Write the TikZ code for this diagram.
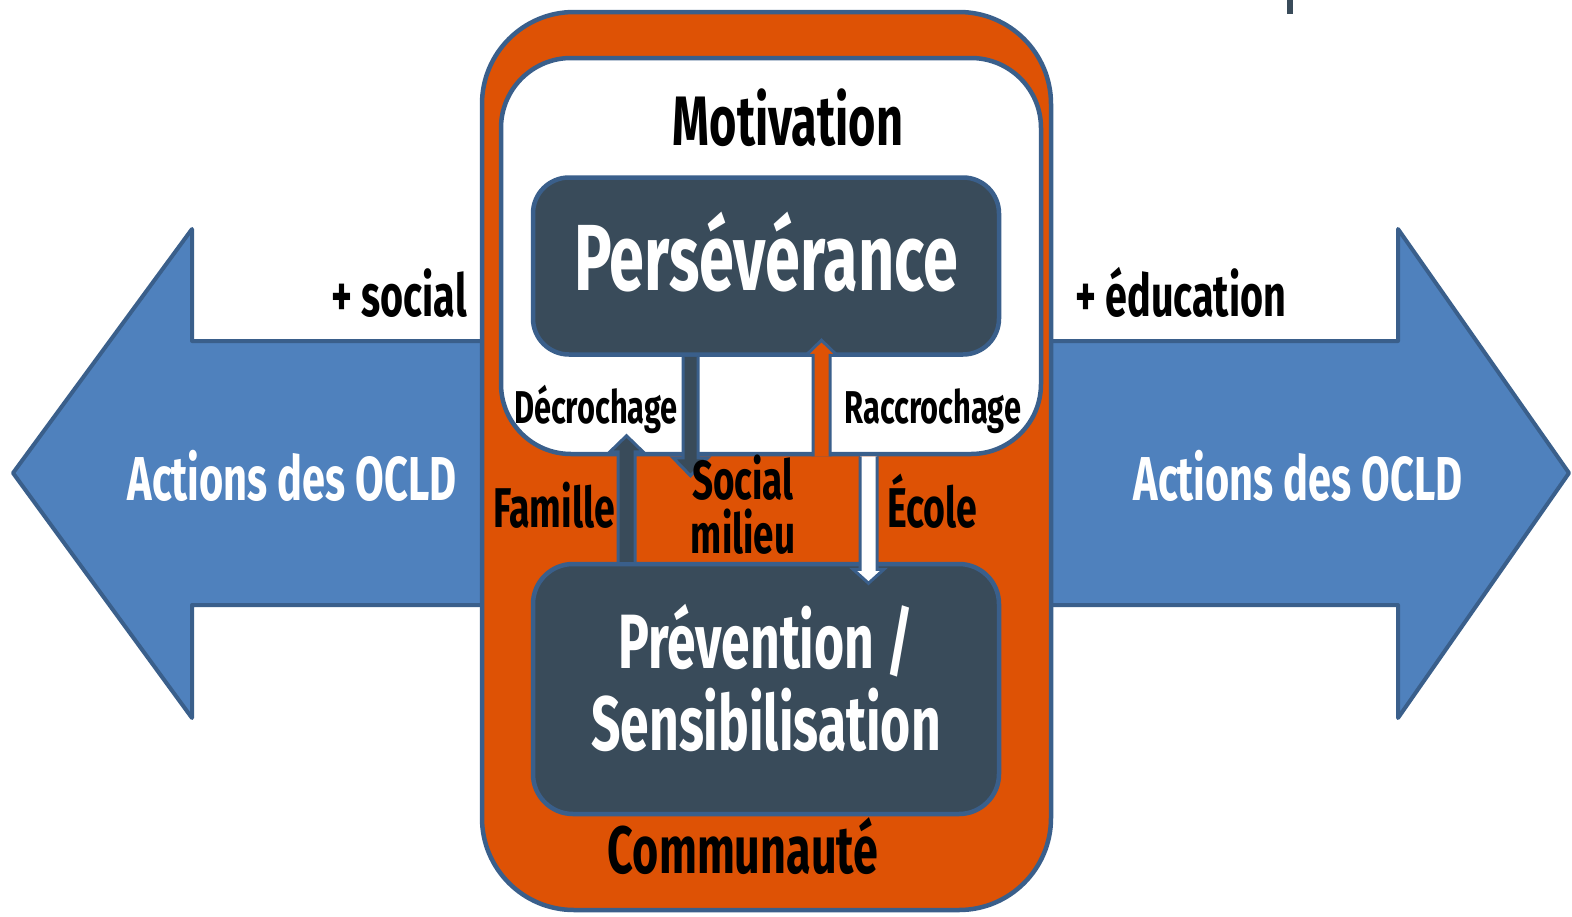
\documentclass[tikz,border=0pt]{standalone}
\usepackage{fontspec}
\setmainfont{Fira Sans}[FakeStretch=0.67]
\definecolor{orangebox}{HTML}{DE5205}
\definecolor{bleuflèche}{HTML}{4F81BD}
\definecolor{bordure}{HTML}{3A5F8B}
\definecolor{ardoise}{HTML}{394B5A}
\newcommand{\taille}[1]{\fontsize{#1}{1.07\dimexpr#1pt\relax}\selectfont\bfseries}
\begin{document}
\begin{tikzpicture}[x=1pt, y=-1pt,
	boite/.style = {draw=bordure, line width=4.5pt, inner sep=0pt},
	grandefleche/.style = {draw=bordure, line width=4pt, fill=bleuflèche, line join=round},
	petitefleche/.style = {draw=bordure, line width=3pt},
	texte/.style = {inner sep=0pt, anchor=base}]

	\useasboundingbox (0,0) rectangle (1572,916);
	\fill[ardoise] (1287,0) rectangle (1293,14);

	% les deux grandes fleches
	\draw[grandefleche] (490,341) -- (192,341) -- (192,229) -- (13,473) -- (192,718) -- (192,605) -- (490,605) -- cycle;
	\draw[grandefleche] (1045,341) -- (1398,341) -- (1398,229) -- (1569,473) -- (1398,718) -- (1398,605) -- (1045,605) -- cycle;
	\node[texte, text=white] (actg) at (292,500) {\taille{62}Actions des OCLD};
	\node[texte, text=white] (actd) at (1298,500) {\taille{62}Actions des OCLD};
	\node[texte, anchor=base east] (social) at (467,316) {\taille{59}+ social};
	\node[texte, anchor=base west] (educ) at (1075,316) {\taille{59}+ éducation};

	% les boites
	\node[boite, fill=orangebox, rounded corners=92, minimum width=569, minimum height=898] (commu) at (766.5,461) {};
	\node[boite, fill=white, rounded corners=70, minimum width=540, minimum height=396] (motiv) at (771,256) {};
	\node[boite, fill=ardoise, rounded corners=36, minimum width=466, minimum height=177] (perse) at (766,266) {};
	\node[boite, fill=ardoise, rounded corners=40, minimum width=466, minimum height=250] (preven) at (766,689) {};

	% les petites fleches
	\draw[petitefleche, fill=ardoise] ([xshift=-83]perse.south) -- ++(0,101) -- ++(-10,0) -- ++(17.5,18) -- ++(17.5,-18) -- ++(-10,0) -- ++(0,-101);
	\draw[petitefleche, fill=orangebox] ([xshift=42]motiv.south) -- ++(0,-101) -- ++(-7,0) -- ++(15.5,-15) -- ++(15.5,15) -- ++(-7,0) -- ++(0,101);
	\draw[petitefleche, fill=ardoise] ([xshift=-148]preven.north) -- ++(0,-110) -- ++(-8,0) -- ++(16.5,-16) -- ++(16.5,16) -- ++(-8,0) -- ++(0,110);
	\draw[petitefleche, fill=white] ([xshift=89]motiv.south) -- ++(0,113) -- ++(-7,0) -- ++(15.5,14) -- ++(15.5,-14) -- ++(-7,0) -- ++(0,-113);

	% les textes
	\node[texte] (motivtxt) at (788,145) {\taille{70}Motivation};
	\node[texte, text=white] (persetxt) at (766,290) {\taille{94}Persévérance};
	\node[texte] (decro) at (596,423) {\taille{46}Décrochage};
	\node[texte] (raccro) at (933,423) {\taille{46}Raccrochage};
	\node[texte] (famille) at (554,527) {\taille{56}Famille};
	\node[texte] (ecole) at (932,527) {\taille{56}École};
	\node[inner sep=0pt, align=center, font=\taille{55}] (milieu) at (743,505) {Social\\[-5pt]milieu};
	\node[inner sep=0pt, align=center, font=\taille{77}, text=white] (preventxt) at (766,678) {Prévention /\\[0pt]Sensibilisation};
	\node[texte] (commutxt) at (743,873) {\taille{67}Communauté};

\end{tikzpicture}
\end{document}
